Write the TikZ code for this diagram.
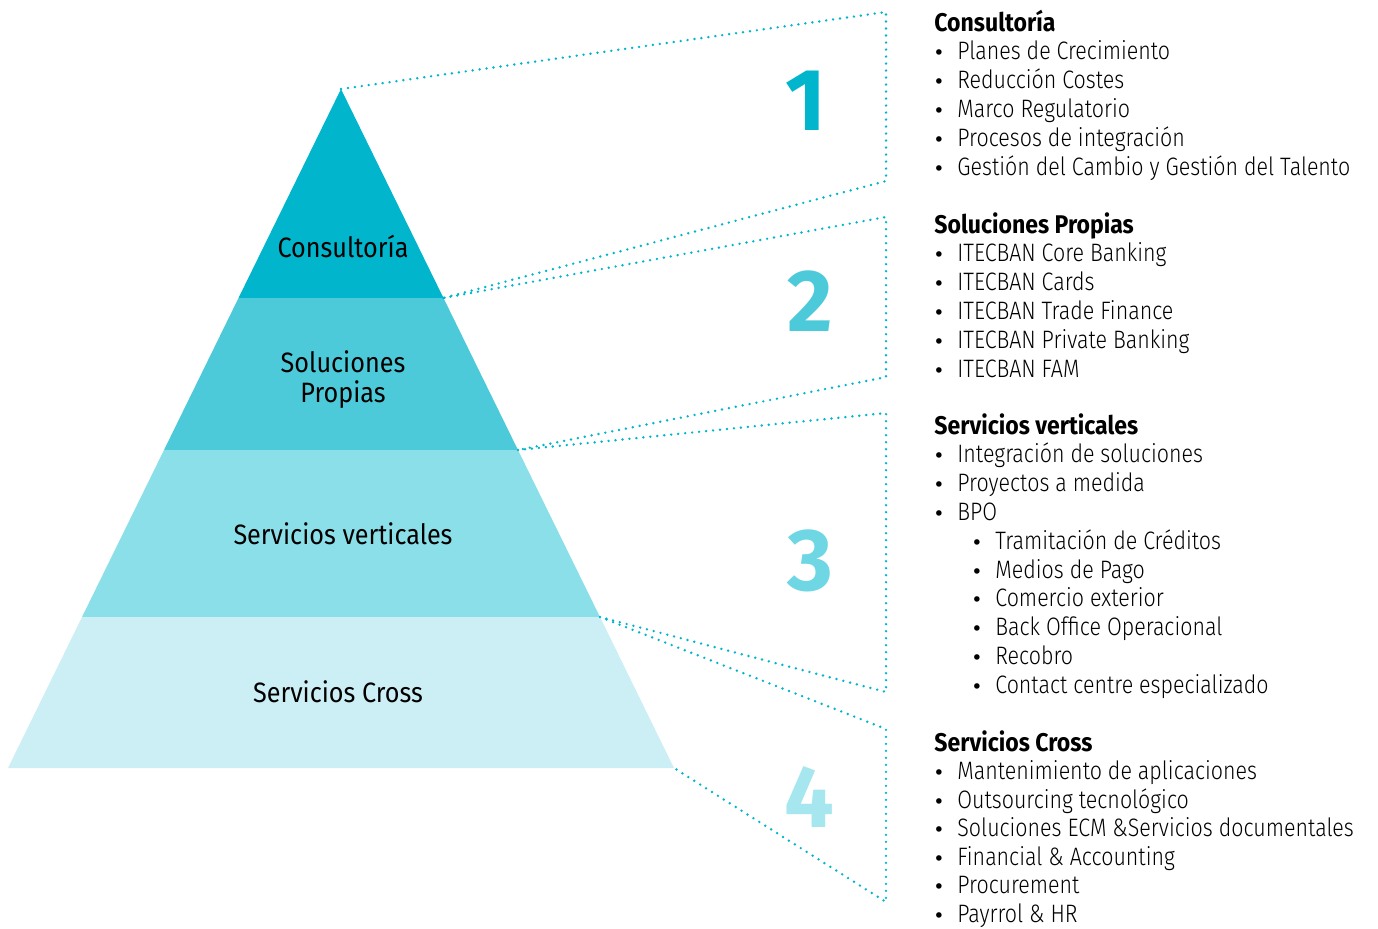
\documentclass[tikz,border=0pt]{standalone}
\usepackage{fontspec}
\setmainfont{Fira Sans Light}[FakeStretch=0.85]
\newfontfamily\headfont{Fira Sans Bold}[FakeStretch=0.9]
\newfontfamily\pyrfont{Fira Sans}[FakeStretch=0.9]
\newfontfamily\numfont{Fira Sans Bold}
\newfontfamily\bulfont{DejaVu Sans}
\definecolor{lvlA}{HTML}{00B5CC}
\definecolor{lvlB}{HTML}{4DCAD9}
\definecolor{lvlC}{HTML}{8ADFE9}
\definecolor{lvlD}{HTML}{CCEFF5}
\definecolor{numC}{HTML}{6FD6E3}
\definecolor{numD}{HTML}{A6E6EE}

\begin{document}
\begin{tikzpicture}[x=0.5pt, y=-0.5pt,
  dots/.style={draw=lvlA, line width=1.35pt, line cap=round, dash pattern=on 0pt off 3.5pt},
  head/.style={anchor=base west, inner sep=0pt, font=\fontsize{12.8}{15}\headfont},
  item/.style={anchor=base west, inner sep=0pt, font=\fontsize{12.6}{15}\selectfont},
  bull/.style={anchor=base, inner sep=0pt, font=\fontsize{9.5}{12}\bulfont},
  lvl/.style={inner sep=0pt, align=center, font=\fontsize{14}{15}\pyrfont},
  num/.style={anchor=base, inner sep=0pt, font=\fontsize{44}{44}\numfont}]
  %pyramid, four levels
    \useasboundingbox (0,0) rectangle (1378,928);
    \coordinate (top) at (341,89);
    \coordinate (l1) at (238.5,298);
    \coordinate (r1) at (443.5,298);
    \coordinate (l2) at (164,450);
    \coordinate (r2) at (518,450);
    \coordinate (l3) at (82,617);
    \coordinate (r3) at (600,617);
    \coordinate (l4) at (8,768);
    \coordinate (r4) at (674,768);

    \fill[lvlA] (top) -- (r1) -- (l1) -- cycle;
    \fill[lvlB] (l1) -- (r1) -- (r2) -- (l2) -- cycle;
    \fill[lvlC] (l2) -- (r2) -- (r3) -- (l3) -- cycle;
    \fill[lvlD] (l3) -- (r3) -- (r4) -- (l4) -- cycle;

    \node[lvl, anchor=base] (p1) at (343,257) {Consultoría};
    \node[lvl] (p2) at (343,380) {Soluciones\\Propias};
    \node[lvl, anchor=base] (p3) at (343,544) {Servicios verticales};
    \node[lvl, anchor=base] (p4) at (338,702) {Servicios Cross};

    % dotted brackets
    \coordinate (t1) at (886,12);
    \coordinate (b1) at (886,181);
    \coordinate (t2) at (886,217);
    \coordinate (b2) at (886,377);
    \coordinate (t3) at (886,413);
    \coordinate (b3) at (886,692);
    \coordinate (t4) at (886,729);
    \coordinate (b4) at (886,902);

    \draw[dots] (top) -- (t1) -- (b1) -- (r1);
    \draw[dots] (r1) -- (t2) -- (b2) -- (r2);
    \draw[dots] (r2) -- (t3) -- (b3) -- (r3);
    \draw[dots] (r3) -- (t4) -- (b4) -- (r4);

    \node[num, text=lvlA] (n1) at (806,130) {1};
    \node[num, text=lvlB] (n2) at (810,331) {2};
    \node[num, text=numC] (n3) at (810,590) {3};
    \node[num, text=numD] (n4) at (809,827) {4};

    % lists
    \node[head] (h1) at (934,31) {Consultoría};
    \foreach \t [count=\k] in {Planes de Crecimiento, Reducción Costes, Marco Regulatorio,
        Procesos de integración, Gestión del Cambio y Gestión del Talento}{
      \node[bull] (d1-\k) at (939,31+28.8*\k) {•};
      \node[item] (i1-\k) at (957,31+28.8*\k) {\t};
    }

    \node[head] (h2) at (934,233) {Soluciones Propias};
    \foreach \t [count=\k] in {ITECBAN Core Banking, ITECBAN Cards, ITECBAN Trade Finance,
        ITECBAN Private Banking, ITECBAN FAM}{
      \node[bull] (d2-\k) at (939,233+28.8*\k) {•};
      \node[item] (i2-\k) at (957,233+28.8*\k) {\t};
    }

    \node[head] (h3) at (934,434) {Servicios verticales};
    \foreach \t [count=\k] in {Integración de soluciones, Proyectos a medida, BPO}{
      \node[bull] (d3-\k) at (939,434+28.8*\k) {•};
      \node[item] (i3-\k) at (957,434+28.8*\k) {\t};
    }
    \foreach \t [count=\k] in {Tramitación de Créditos, Medios de Pago, Comercio exterior,
        Back Office Operacional, Recobro, Contact centre especializado}{
      \node[bull] (s3-\k) at (977,520.4+28.8*\k) {•};
      \node[item] (j3-\k) at (995,520.4+28.8*\k) {\t};
    }

    \node[head] (h4) at (934,751) {Servicios Cross};
    \foreach \t [count=\k] in {Mantenimiento de aplicaciones, Outsourcing tecnológico,
        Soluciones ECM \&Servicios documentales, Financial \& Accounting,
        Procurement, Payrrol \& HR}{
      \node[bull] (d4-\k) at (939,751+28.5*\k) {•};
      \node[item] (i4-\k) at (957,751+28.5*\k) {\t};
    }

  \end{tikzpicture}
\end{document}
